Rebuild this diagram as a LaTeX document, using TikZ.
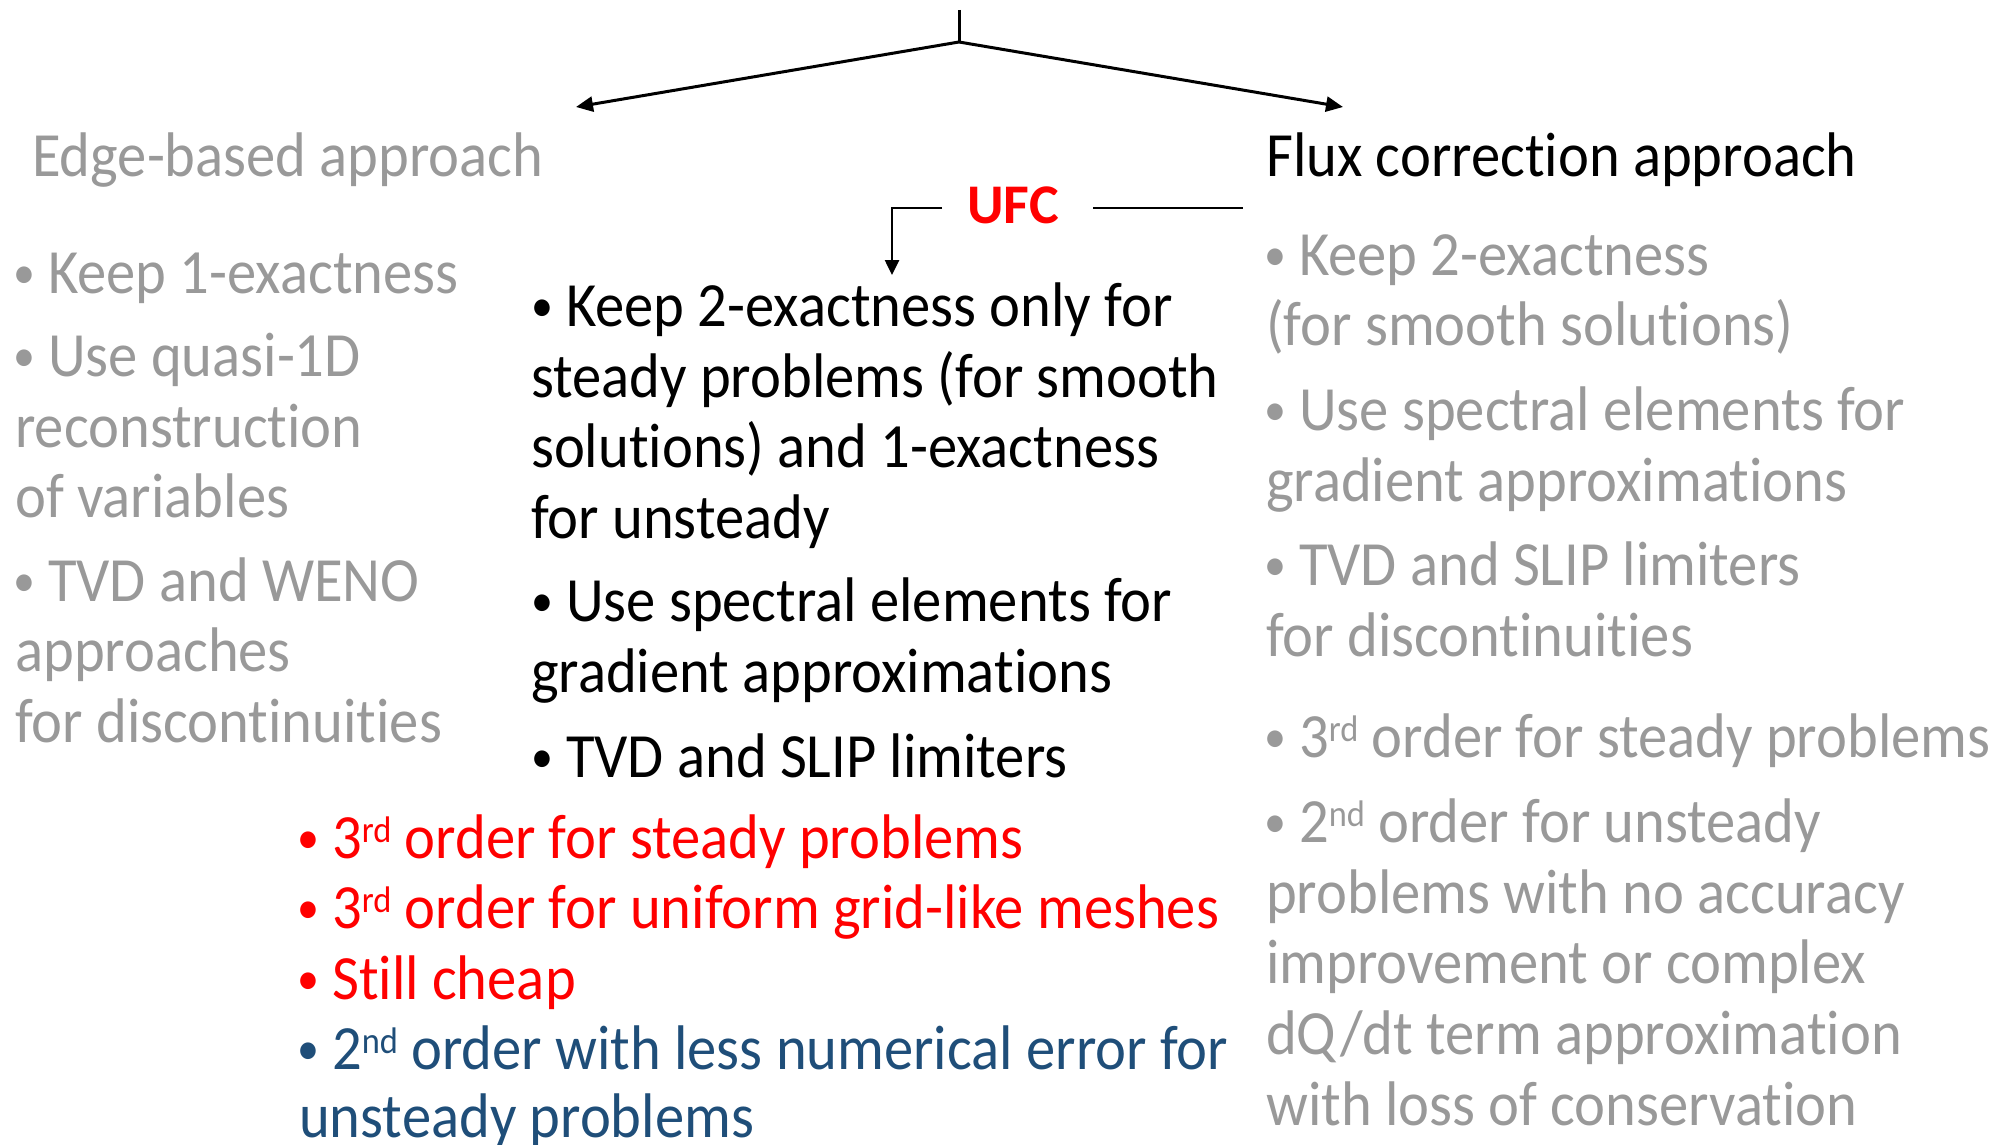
\documentclass[tikz,border=0pt]{standalone}
\usepackage{fontspec}
\setmainfont{Carlito}[Ligatures=NoCommon, FakeStretch=0.93]
\newfontfamily\ufcfont{Carlito}[Ligatures=NoCommon]
\usetikzlibrary{arrows.meta}
\definecolor{softgray}{HTML}{999999}
\definecolor{ufcred}{HTML}{FF0000}
\definecolor{deepblue}{HTML}{1F4E79}
\newcommand{\bul}{\makebox[33pt][l]{\hspace{-2pt}\raisebox{5pt}{\scalebox{0.75}{•}}}}
\newcommand{\ordsup}[1]{\raisebox{16pt}{\fontsize{37}{37}\selectfont #1}}
\tikzset{
  txt/.style={anchor=base west, inner sep=0pt, font=\fontsize{63}{70}\selectfont},
  gr/.style={txt, text=softgray},
  bk/.style={txt, text=black},
  rd/.style={txt, text=ufcred},
  bl/.style={txt, text=deepblue},
  link/.style={line width=3pt, draw=black},
  tip/.style={-{Triangle[length=17pt,width=15pt]}}
}
\begin{document}
\begin{tikzpicture}[x=1pt,y=-1pt]
\useasboundingbox (0,0) rectangle (2013,1145);

% ---- branching arrows at the top
\coordinate (stem) at (959,10);
\coordinate (fork) at (959,42);
\coordinate (edgeTip) at (576,107);
\coordinate (fluxTip) at (1343,107);
\draw[link] (stem) -- (fork);
\draw[link, tip] (fork) -- (edgeTip);
\draw[link, tip] (fork) -- (fluxTip);

% ---- left column: edge-based approach
\node[gr] (edge) at (32,176) {Edge-based approach};
\node[gr] (e1) at (15,293) {\bul Keep 1-exactness};
\node[gr] (e2) at (15,376) {\bul Use quasi-1D};
\node[gr] (e3) at (15,447) {reconstruction};
\node[gr] (e4) at (15,517) {of variables};
\node[gr] (e5) at (15,601) {\bul TVD and WENO};
\node[gr] (e6) at (15,671) {approaches};
\node[gr] (e7) at (15,742) {for discontinuities};

% ---- right column: flux correction approach
\node[bk] (flux) at (1266,176) {Flux correction approach};
\node[gr] (f1) at (1266,275) {\bul Keep 2-exactness};
\node[gr] (f2) at (1266,345) {(for smooth solutions)};
\node[gr] (f3) at (1266,430) {\bul Use spectral elements for};
\node[gr] (f4) at (1266,501) {gradient approximations};
\node[gr] (f5) at (1266,585) {\bul TVD and SLIP limiters};
\node[gr] (f6) at (1266,656) {for discontinuities};
\node[gr] (f7) at (1266,757) {\bul 3\ordsup{rd} order for steady problems};
\node[gr] (f8) at (1266,842) {\bul 2\ordsup{nd} order for unsteady};
\node[gr] (f9) at (1266,913) {problems with no accuracy};
\node[gr] (f10) at (1266,983) {improvement or complex};
\node[gr] (f11) at (1266,1054) {dQ/dt term approximation};
\node[gr] (f12) at (1266,1125) {with loss of conservation};

% ---- middle: UFC
\node[anchor=base, inner sep=0pt, text=ufcred, font=\ufcfont\fontsize{56}{60}\selectfont\bfseries] (ufc) at (1013,223) {UFC};
\coordinate (ufcL) at (942,208);
\coordinate (ufcTip) at (892,275);
\coordinate (ufcR) at (1093,208);
\coordinate (ufcEnd) at (1243,208);
\draw[line width=2.6pt, -{Triangle[length=15pt,width=14pt]}] (ufcL) -| (ufcTip);
\draw[line width=2.6pt] (ufcR) -- (ufcEnd);

\node[bk] (u1) at (533,326) {\bul Keep 2-exactness only for};
\node[bk] (u2) at (531,397) {steady problems (for smooth};
\node[bk] (u3) at (531,467) {solutions) and 1-exactness};
\node[bk] (u4) at (531,538) {for unsteady};
\node[bk] (u5) at (533,621) {\bul Use spectral elements for};
\node[bk] (u6) at (531,692) {gradient approximations};
\node[bk] (u7) at (533,777) {\bul TVD and SLIP limiters};

\node[rd] (r1) at (299,858) {\bul 3\ordsup{rd} order for steady problems};
\node[rd] (r2) at (299,928) {\bul 3\ordsup{rd} order for uniform grid-like meshes};
\node[rd] (r3) at (299,999) {\bul Still cheap};
\node[bl] (b1) at (299,1069) {\bul 2\ordsup{nd} order with less numerical error for};
\node[bl] (b2) at (299,1137) {unsteady problems};
\end{tikzpicture}
\end{document}
